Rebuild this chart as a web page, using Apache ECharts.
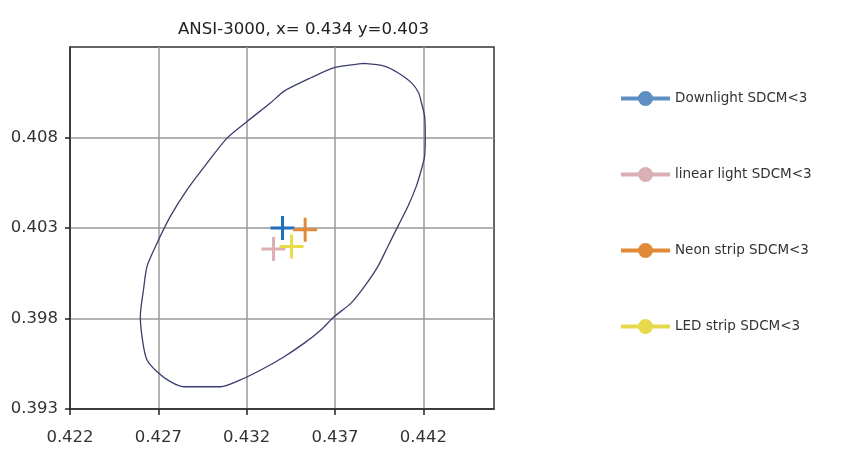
<!DOCTYPE html>
<html><head><meta charset="utf-8">
<script src="https://cdn.jsdelivr.net/npm/echarts@6/dist/echarts.min.js"></script>
<style>html,body{margin:0;padding:0;background:#fff}#c{width:868px;height:461px}</style>
</head><body><div id="c"></div>
<script>
const titleText = 'ANSI-3000, x= 0.434 y=0.403';
const xTicks = [0.422, 0.427, 0.432, 0.437, 0.442];
const yTicks = [0.393, 0.398, 0.403, 0.408];
const seriesNames = ['Downlight SDCM<3', 'linear light SDCM<3', 'Neon strip SDCM<3', 'LED strip SDCM<3'];
const seriesPoints = [
  [[0.43403, 0.40300]],
  [[0.43352, 0.40184]],
  [[0.43531, 0.40291]],
  [[0.43454, 0.40198]]
];
const markerColors = ['#1f6fbf', '#dcb0b3', '#e08a38', '#e8dc48'];
const legendColors = ['#5d8fc2', '#dbb0b4', '#e08a38', '#e6da4c'];
const ellipseX = [0.43867,0.43980,0.44056,0.44132,0.44173,0.44189,0.44207,0.44211,0.44207,0.44189,0.44160,0.44113,0.44056,0.43999,0.43943,0.43867,0.43791,0.43696,0.43620,0.43526,0.43412,0.43298,0.43185,0.43052,0.42844,0.42768,0.42693,0.42636,0.42613,0.42598,0.42616,0.42636,0.42693,0.42768,0.42863,0.42977,0.43090,0.43204,0.43336,0.43412,0.43564,0.43696,0.43867];
const ellipseY = [0.41210,0.41195,0.41158,0.41103,0.41047,0.40992,0.40918,0.40807,0.40696,0.40623,0.40530,0.40420,0.40309,0.40198,0.40088,0.39977,0.39885,0.39811,0.39737,0.39664,0.39589,0.39525,0.39470,0.39423,0.39423,0.39451,0.39506,0.39571,0.39664,0.39811,0.39959,0.40088,0.40217,0.40364,0.40512,0.40660,0.40798,0.40890,0.40992,0.41056,0.41130,0.41186,0.41210];

const FONT = 'DejaVu Sans';
const crossPath = 'path://M-1.5,-12 L1.5,-12 L1.5,12 L-1.5,12 Z M-12,-1.5 L12,-1.5 L12,1.5 L-12,1.5 Z';
const legendIcon = 'path://M0,5.5 L49,5.5 L49,9.5 L0,9.5 Z M17,7.5 A7.5,7.5 0 1 1 32,7.5 A7.5,7.5 0 1 1 17,7.5 Z';

const chart = echarts.init(document.getElementById('c'), null, {renderer: 'canvas'});
const series = [{
  name: 'ellipse', type: 'line', silent: true, showSymbol: false, symbol: 'none', smooth: 0.25,
  data: ellipseX.map((x, i) => [x, ellipseY[i]]),
  lineStyle: {color: '#3a3d70', width: 1.3}, z: 2, animation: false
}];
seriesNames.forEach((n, i) => {
  series.push({
    name: n, type: 'scatter', data: seriesPoints[i], symbol: crossPath, symbolSize: 24,
    itemStyle: {color: markerColors[i], opacity: 1}, z: 3 + i, animation: false
  });
});
chart.setOption({
  animation: false,
  textStyle: {fontFamily: FONT},
  title: {text: titleText, left: 173, top: 16, textStyle: {fontFamily: FONT, fontSize: 16.6, fontWeight: 'normal', color: '#222'}},
  grid: {left: 70, right: 374, top: 47, bottom: 52, show: true, borderColor: '#333', borderWidth: 1.5, backgroundColor: 'transparent'},
  legend: {
    orient: 'vertical', left: 616, top: 86, itemWidth: 49, itemHeight: 15, itemGap: 61,
    textStyle: {fontFamily: FONT, fontSize: 13.5, color: '#333'},
    data: seriesNames.map((n, i) => ({name: n, icon: legendIcon, itemStyle: {color: legendColors[i]}}))
  },
  xAxis: {
    type: 'value', min: 0.422, max: 0.446,
    axisLine: {show: true, onZero: false, lineStyle: {color: '#222', width: 1.5}},
    axisTick: {show: true, length: 6, customValues: xTicks, lineStyle: {color: '#222', width: 1.5}},
    axisLabel: {customValues: xTicks, fontSize: 16.5, color: '#333', margin: 20, fontFamily: FONT, formatter: v => v.toFixed(3)},
    splitLine: {show: true, lineStyle: {color: '#9a9a9a', width: 1.5}}
  },
  yAxis: {
    type: 'value', min: 0.393, max: 0.413,
    axisLine: {show: true, onZero: false, lineStyle: {color: '#222', width: 1.5}},
    axisTick: {show: true, length: 5, customValues: yTicks, lineStyle: {color: '#222', width: 1.5}},
    axisLabel: {customValues: yTicks, fontSize: 16.5, color: '#333', margin: 12, fontFamily: FONT, formatter: v => v.toFixed(3)},
    splitLine: {show: true, lineStyle: {color: '#9a9a9a', width: 1.5}}
  },
  series: series
});
</script></body></html>
